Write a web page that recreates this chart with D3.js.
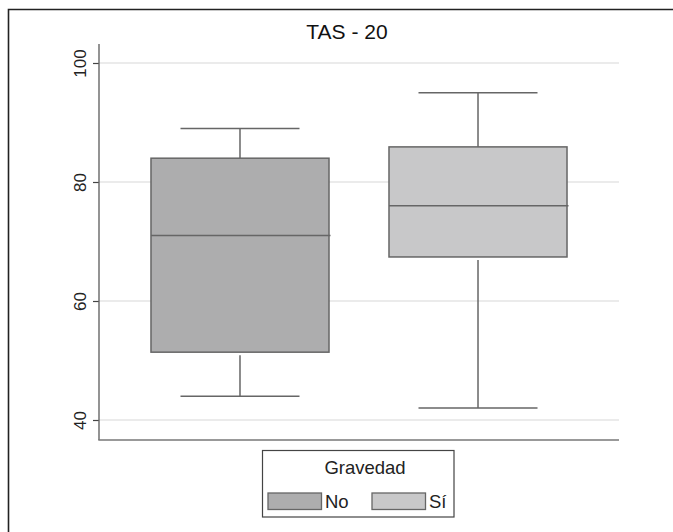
<!DOCTYPE html>
<html>
<head>
<meta charset="utf-8">
<script src="https://cdn.jsdelivr.net/npm/d3@7/dist/d3.min.js"></script>
<style>
  html, body { margin: 0; padding: 0; background: #fff; }
  svg { display: block; font-family: "Liberation Sans", Arial, Helvetica, sans-serif; }
</style>
</head>
<body>
<svg id="chart" width="673" height="532"></svg>
<script>
// ---- data ----
const categories = ["No", "Sí"];
const lowerWhisker = [44, 42];
const q1 = [51.4, 67.4];
const median = [71, 76];
const q3 = [84, 85.9];
const upperWhisker = [89, 95];
const yTicks = [40, 60, 80, 100];
const fills = ["#adadae", "#c8c8c9"];
const title = "TAS - 20";
const legendTitle = "Gravedad";

// ---- layout ----
const svg = d3.select("#chart");
const plotLeft = 99, plotRight = 619, plotTop = 44, plotBottom = 440;

const y = d3.scaleLinear().domain([40, 100]).range([420, 63]);
const x = d3.scalePoint().domain(categories).range([plotLeft, plotRight]).padding(0.5924);
const step = x.step();
const boxW = step * 0.748;
const capW = step * 0.5;

const strokeCol = "#666666";

// outer frame (left + top)
svg.append("path")
  .attr("d", `M8.5,532 L8.5,9.5 L673,9.5`)
  .attr("fill", "none").attr("stroke", "#222").attr("stroke-width", 1.6);

// title
svg.append("text")
  .attr("x", 347).attr("y", 39)
  .attr("text-anchor", "middle")
  .attr("font-size", 21).attr("fill", "#111")
  .text(title);

// gridlines
svg.append("g").selectAll("line").data(yTicks).join("line")
  .attr("x1", plotLeft).attr("x2", plotRight)
  .attr("y1", d => y(d)).attr("y2", d => y(d))
  .attr("stroke", "#d8d8d8").attr("stroke-width", 1.2);

// y axis
const yAxis = d3.axisLeft(y).tickValues(yTicks).tickSize(6).tickSizeOuter(0).tickFormat(d3.format("d"));
const gy = svg.append("g").attr("transform", `translate(${plotLeft},0)`).call(yAxis);
gy.select(".domain").remove();
gy.selectAll(".tick line").attr("stroke", "#444").attr("stroke-width", 1.2);
gy.selectAll(".tick text")
  .attr("font-size", 17).attr("fill", "#222")
  .attr("x", null).attr("dy", null)
  .attr("text-anchor", "middle")
  .attr("transform", "translate(-13,0) rotate(-90)")
  .attr("y", 0);

// axis lines
svg.append("line").attr("x1", plotLeft).attr("x2", plotLeft)
  .attr("y1", plotTop).attr("y2", plotBottom)
  .attr("stroke", "#666").attr("stroke-width", 1.4);
svg.append("line").attr("x1", plotLeft - 0.7).attr("x2", plotRight)
  .attr("y1", plotBottom).attr("y2", plotBottom)
  .attr("stroke", "#777").attr("stroke-width", 1.6);

// boxes
const data = categories.map((c, i) => ({
  c, lo: lowerWhisker[i], q1: q1[i], med: median[i], q3: q3[i], hi: upperWhisker[i], fill: fills[i]
}));
const g = svg.append("g").selectAll("g").data(data).join("g");

// upper whisker
g.append("line")
  .attr("x1", d => x(d.c)).attr("x2", d => x(d.c))
  .attr("y1", d => y(d.hi)).attr("y2", d => y(d.q3))
  .attr("stroke", strokeCol).attr("stroke-width", 1.5);
g.append("line")
  .attr("x1", d => x(d.c) - capW / 2).attr("x2", d => x(d.c) + capW / 2)
  .attr("y1", d => y(d.hi)).attr("y2", d => y(d.hi))
  .attr("stroke", strokeCol).attr("stroke-width", 1.5);
// lower whisker
g.append("line")
  .attr("x1", d => x(d.c)).attr("x2", d => x(d.c))
  .attr("y1", d => y(d.q1) + 3).attr("y2", d => y(d.lo))
  .attr("stroke", strokeCol).attr("stroke-width", 1.5);
g.append("line")
  .attr("x1", d => x(d.c) - capW / 2).attr("x2", d => x(d.c) + capW / 2)
  .attr("y1", d => y(d.lo)).attr("y2", d => y(d.lo))
  .attr("stroke", strokeCol).attr("stroke-width", 1.5);
// box
g.append("rect")
  .attr("x", d => x(d.c) - boxW / 2).attr("width", boxW)
  .attr("y", d => y(d.q3)).attr("height", d => y(d.q1) - y(d.q3))
  .attr("fill", d => d.fill).attr("stroke", strokeCol).attr("stroke-width", 1.5);
// median
g.append("line")
  .attr("x1", d => x(d.c) - boxW / 2).attr("x2", d => x(d.c) + boxW / 2 + 1.5)
  .attr("y1", d => y(d.med)).attr("y2", d => y(d.med))
  .attr("stroke", strokeCol).attr("stroke-width", 1.5);

// legend
const lg = svg.append("g");
lg.append("rect").attr("x", 262.5).attr("y", 450.5).attr("width", 191.5).attr("height", 66.5)
  .attr("fill", "#fff").attr("stroke", "#444").attr("stroke-width", 1.2);
lg.append("text").attr("x", 365).attr("y", 474).attr("text-anchor", "middle")
  .attr("font-size", 18.5).attr("fill", "#222").text(legendTitle);
const legendX = [268, 372];
const items = lg.selectAll("g.item").data(data).join("g").attr("class", "item")
  .attr("transform", (d, i) => `translate(${legendX[i]},493)`);
items.append("rect").attr("width", 53.5).attr("height", 16.5)
  .attr("fill", d => d.fill).attr("stroke", strokeCol).attr("stroke-width", 1.3);
items.append("text").attr("x", 57).attr("y", 15)
  .attr("font-size", 18.5).attr("fill", "#222").text(d => d.c);
</script>
</body>
</html>
